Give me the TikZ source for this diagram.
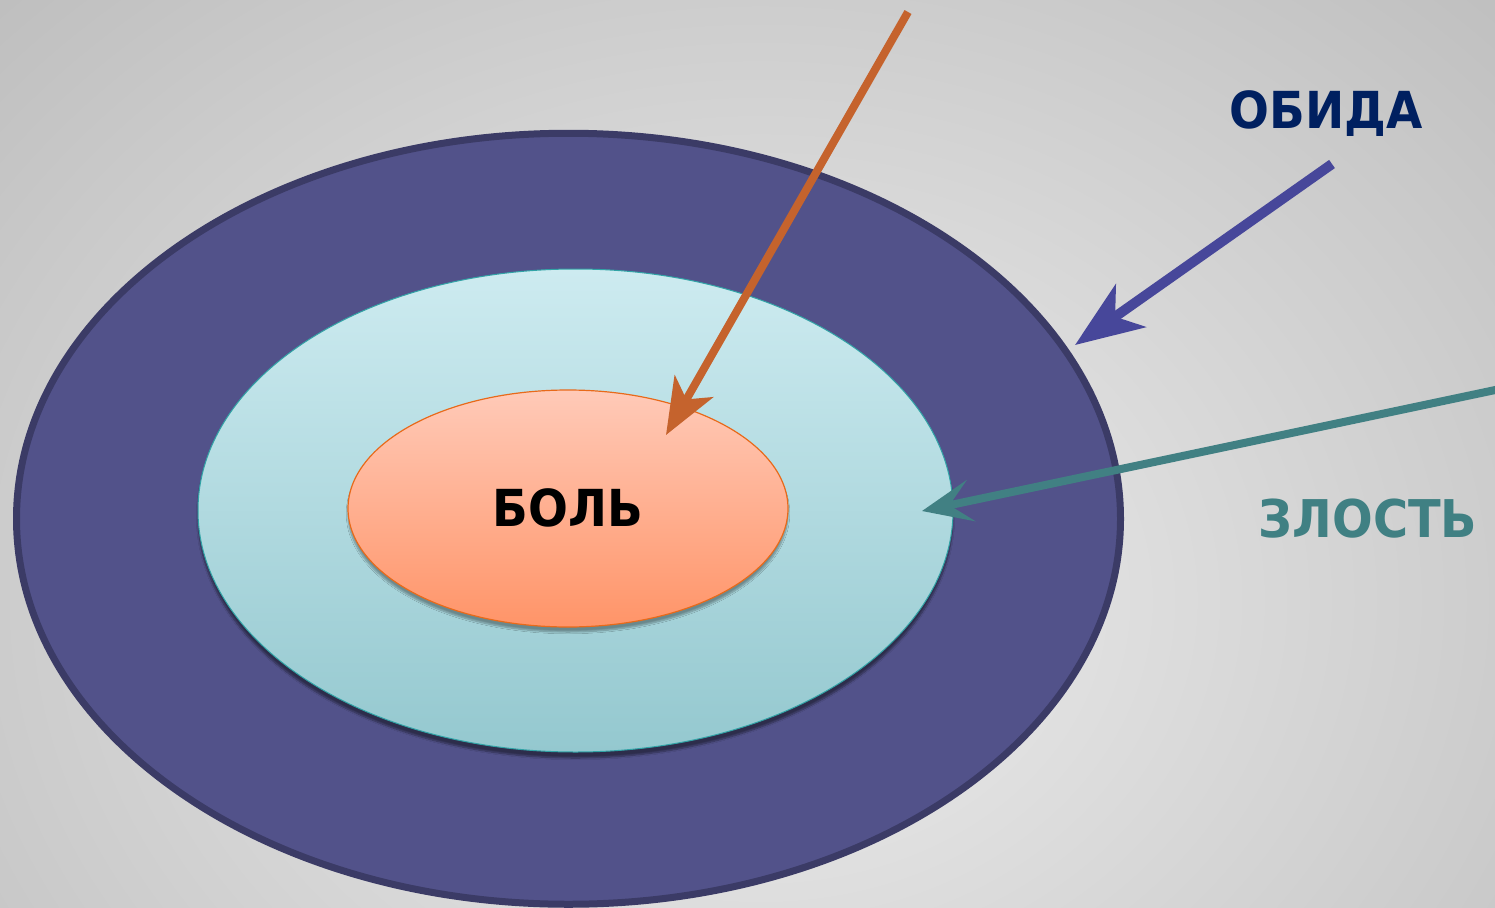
\documentclass[tikz,border=0pt]{standalone}
\usepackage{fontspec}
\newfontfamily\labfont[FakeStretch=0.92]{DejaVu Sans}
\usetikzlibrary{shapes.geometric,arrows.meta,shadows.blur}
\definecolor{bgin}{HTML}{EEEEEE}
\definecolor{bgout}{HTML}{B4B4B4}
\definecolor{outerfill}{HTML}{52528A}
\definecolor{outerline}{HTML}{3B3B66}
\definecolor{midtop}{HTML}{CDEBF0}
\definecolor{midbot}{HTML}{94C8CF}
\definecolor{midline}{HTML}{31A3A6}
\definecolor{intop}{HTML}{FFCAB8}
\definecolor{inbot}{HTML}{FF9468}
\definecolor{inline}{HTML}{E86A1A}
\definecolor{arrorange}{HTML}{C5632D}
\definecolor{arrblue}{HTML}{47479A}
\definecolor{arrteal}{HTML}{418083}
\definecolor{navytext}{HTML}{002060}
\definecolor{tealtext}{HTML}{408083}
\tikzset{
  ring/.style={ellipse, inner sep=0pt},
  lbl/.style={anchor=base, inner sep=0pt},
}
\begin{document}
\begin{tikzpicture}[x=1pt,y=-1pt]
\useasboundingbox (0,0) rectangle (1495,907);
\fill[bgout] (0,0) rectangle (1495,907);
\shade[inner color=bgin, outer color=bgout] (760,600) ellipse [x radius=1300, y radius=1060];
\node[ring, draw=outerline, line width=7pt, fill=outerfill,
      minimum width=1104pt, minimum height=771pt] (outer) at (568.5,518.75) {};
\node[ring, draw=midline, line width=1pt, top color=midtop, bottom color=midbot,
      blur shadow={shadow xshift=0pt, shadow yshift=-6pt, shadow opacity=45, shadow blur steps=8},
      minimum width=755pt, minimum height=483pt] (middle) at (575.5,510.5) {};
\node[ring, draw=inline, line width=1.2pt, top color=intop, bottom color=inbot,
      blur shadow={shadow xshift=0pt, shadow yshift=-5pt, shadow opacity=35, shadow blur steps=8},
      minimum width=440pt, minimum height=237pt] (inner) at (568,508.5) {};
\node[lbl, font=\labfont\bfseries\fontsize{51}{52}\selectfont] (bol) at (568,526) {БОЛЬ};
\node[lbl, text=navytext, font=\labfont\bfseries\fontsize{51}{53}\selectfont] (obida) at (1326,128) {ОБИДА};
\node[lbl, text=tealtext, font=\labfont\bfseries\fontsize{52}{54}\selectfont] (zlost) at (1368,537) {ЗЛОСТЬ};
\coordinate (otail) at (908,12);
\coordinate (otip) at (666,435);
\coordinate (btail) at (1332,164);
\coordinate (btip) at (1075,345);
\coordinate (ttail) at (1500,389);
\coordinate (ttip) at (922,511);
\draw[arrorange, line width=8pt, -{Stealth[length=56pt, width=44pt, inset=15pt]}] (otail) -- (otip);
\draw[arrblue, line width=10pt, -{Stealth[length=68pt, width=52pt, inset=19pt]}] (btail) -- (btip);
\draw[arrteal, line width=8pt, -{Stealth[length=50pt, width=42pt, inset=22pt]}] (ttail) -- (ttip);
\end{tikzpicture}
\end{document}
